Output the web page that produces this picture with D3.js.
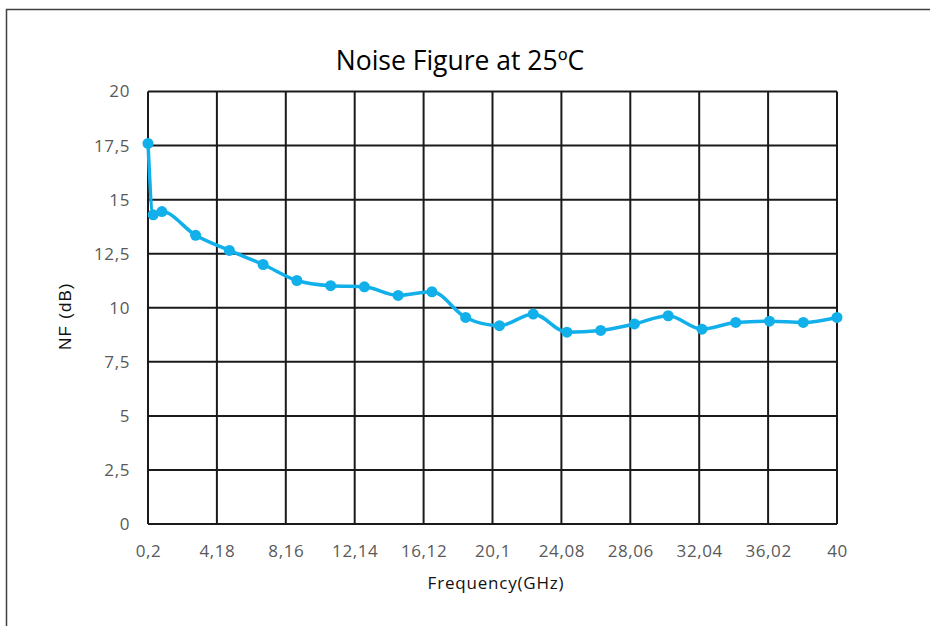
<!DOCTYPE html>
<html>
<head>
<meta charset="utf-8">
<script src="https://cdn.jsdelivr.net/npm/d3@7"></script>
<style>
  body { margin: 0; background: #fff; }
  svg { display: block; }
</style>
</head>
<body>
<svg id="chart" width="930" height="626"></svg>
<script>
// frequency points (GHz)
const freq = [0.2, 0.5, 1, 2.95, 4.9, 6.85, 8.8, 10.75, 12.7, 14.65, 16.6, 18.55,
  20.5, 22.45, 24.4, 26.35, 28.3, 30.25, 32.2, 34.15, 36.1, 38.05, 40];
const nf = [17.6, 14.3, 14.45, 13.35, 12.65, 12.0, 11.26, 11.02, 10.97, 10.57, 10.74, 9.55,
  9.17, 9.71, 8.87, 8.95, 9.25, 9.63, 9.01, 9.32, 9.38, 9.32, 9.55];
const xTicks = [0.2, 4.18, 8.16, 12.14, 16.12, 20.1, 24.08, 28.06, 32.04, 36.02, 40];
const yTicks = [0, 2.5, 5, 7.5, 10, 12.5, 15, 17.5, 20];

const svg = d3.select('#chart');
const plotL = 148, plotR = 837, plotT = 91.5, plotB = 524;

const x = d3.scaleLinear().domain([0.2, 40]).range([plotL, plotR]);
const y = d3.scaleLinear().domain([0, 20]).range([plotB, plotT]);
const fmt = (d) => String(d).replace('.', ',');
const font = '"Open Sans", Lato, sans-serif';

// outer frame
svg.append('rect')
  .attr('x', 6.5).attr('y', 9.5)
  .attr('width', 940).attr('height', 640)
  .attr('fill', 'none')
  .attr('stroke', '#404040')
  .attr('stroke-width', 1.5);

// title
svg.append('text')
  .attr('x', 460).attr('y', 70)
  .attr('text-anchor', 'middle')
  .style('font-family', font)
  .style('font-size', '26.5px')
  .attr('fill', '#000')
  .text('Noise Figure at 25ºC');

// grid
const grid = svg.append('g').attr('stroke', '#1a1a1a').attr('stroke-width', 2);
grid.selectAll('line.h').data(yTicks).enter().append('line')
  .attr('class', 'h')
  .attr('x1', plotL).attr('x2', plotR)
  .attr('y1', (d) => y(d)).attr('y2', (d) => y(d));
grid.selectAll('line.v').data(xTicks).enter().append('line')
  .attr('class', 'v')
  .attr('y1', plotT).attr('y2', plotB)
  .attr('x1', (d) => x(d)).attr('x2', (d) => x(d));

// axes labels
const xAxis = d3.axisBottom(x).tickValues(xTicks).tickFormat(fmt).tickSize(0).tickPadding(21);
const yAxis = d3.axisLeft(y).tickValues(yTicks).tickFormat(fmt).tickSize(0).tickPadding(18);

svg.append('g')
  .attr('transform', `translate(0,${plotB})`)
  .call(xAxis)
  .call((g) => g.select('.domain').remove())
  .selectAll('text')
  .attr('fill', '#595959')
  .style('font-family', font)
  .style('font-size', '17px')
  .style('letter-spacing', '0.6px');

svg.append('g')
  .attr('transform', `translate(${plotL},0)`)
  .call(yAxis)
  .call((g) => g.select('.domain').remove())
  .selectAll('text')
  .attr('fill', '#595959')
  .style('font-family', font)
  .style('font-size', '17px')
  .style('letter-spacing', '0.6px');

svg.append('text')
  .attr('x', 496).attr('y', 589)
  .attr('text-anchor', 'middle')
  .style('font-family', font)
  .style('font-size', '17px')
  .style('letter-spacing', '0.8px')
  .attr('fill', '#111')
  .text('Frequency(GHz)');

svg.append('text')
  .attr('transform', 'translate(71,316) rotate(-90)')
  .attr('text-anchor', 'middle')
  .style('font-family', '"Liberation Sans", Arial, sans-serif')
  .style('font-size', '17px')
  .style('letter-spacing', '1.2px')
  .attr('fill', '#111')
  .text('NF (dB)');

// series
const pts = freq.map((f, i) => [f, nf[i]]);
const line = d3.line().x((d) => x(d[0])).y((d) => y(d[1])).curve(d3.curveMonotoneX);

svg.append('path')
  .datum(pts)
  .attr('d', line)
  .attr('fill', 'none')
  .attr('stroke', '#12b0ea')
  .attr('stroke-width', 3.5)
  .attr('stroke-linejoin', 'round');

svg.selectAll('circle').data(pts).enter().append('circle')
  .attr('cx', (d) => x(d[0]))
  .attr('cy', (d) => y(d[1]))
  .attr('r', 5.5)
  .attr('fill', '#12b0ea');
</script>
</body>
</html>
